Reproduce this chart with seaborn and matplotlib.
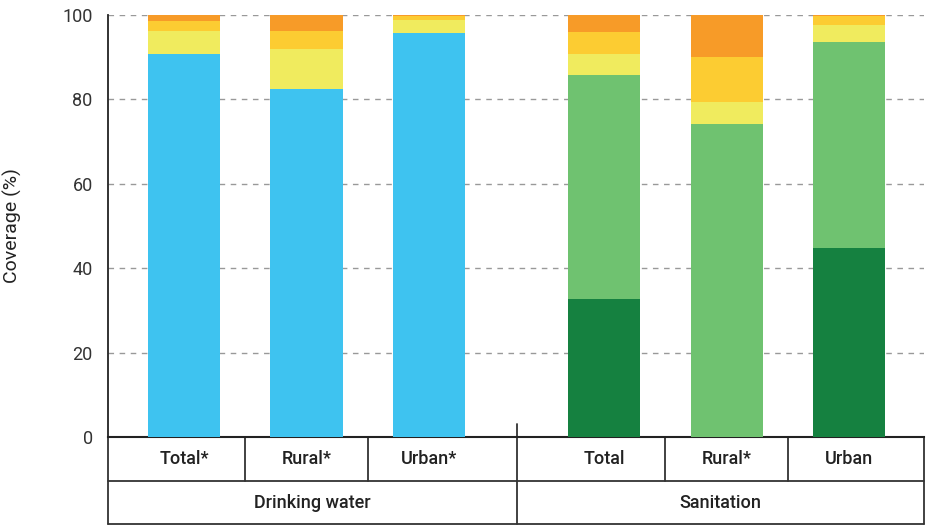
import numpy as np
import pandas as pd
import matplotlib
matplotlib.use("Agg")
import matplotlib.pyplot as plt
import matplotlib.transforms as mtransforms
import seaborn as sns

# ==============================
# DATA (coverage, %)
# ==============================
categories = ["Total*", "Rural*", "Urban*", "Total", "Rural*", "Urban"]
groups = ["Drinking water"] * 3 + ["Sanitation"] * 3
x_pos = [0, 1, 2, 3.43, 4.43, 5.43]

safely_managed = [0, 0, 0, 32.8, 0, 44.8]
basic = [90.7, 82.4, 95.7, 53.1, 74.1, 48.7]
limited = [5.4, 9.5, 3.0, 4.8, 5.4, 4.1]
unimproved = [2.4, 4.2, 1.1, 5.2, 10.5, 2.1]
no_service = [1.5, 3.9, 0.2, 4.1, 10.0, 0.3]

basic_colors = {"Drinking water": "#3ec3f0", "Sanitation": "#6fc270"}
layer_colors = ["#158140", None, "#f0eb5e", "#fccc32", "#f79b28"]

sns.set_style("white")
plt.rcParams["font.family"] = ["Roboto", "DejaVu Sans"]

fig = plt.figure(figsize=(9.26, 5.25), dpi=100)
ax = fig.add_axes([108 / 926, 88 / 525, (924 - 108) / 926, (437 - 15) / 525])

layers = [safely_managed, basic, limited, unimproved, no_service]
cum = np.cumsum(np.array(layers), axis=0)

df = pd.DataFrame({"x": x_pos, "group": groups})

# draw back to front: tallest cumulative first
for i in range(len(layers) - 1, -1, -1):
    df["h"] = cum[i]
    if layer_colors[i] is None:
        sns.barplot(data=df, x="x", y="h", hue="group", palette=basic_colors,
                    native_scale=True, width=0.59, ax=ax, legend=False,
                    saturation=1, linewidth=0, zorder=3)
    else:
        sns.barplot(data=df, x="x", y="h", color=layer_colors[i],
                    native_scale=True, width=0.59, ax=ax,
                    saturation=1, linewidth=0, zorder=3)

ax.set_xlim(-0.62, 6.04)
ax.set_ylim(0, 100)
ax.set_yticks([0, 20, 40, 60, 80, 100])
ax.set_xticks([])
ax.set_xlabel("")
ax.set_ylabel("Coverage (%)", fontsize=14, color="#222222")
ax.yaxis.set_label_coords(-0.105, 0.5)
ax.tick_params(axis="y", length=0, labelsize=13, labelcolor="#333333", pad=11)

for v in [20, 40, 60, 80, 100]:
    ax.axhline(v, color="#999999", lw=1, ls=(0, (4, 4)), zorder=1)

for s in ["top", "right"]:
    ax.spines[s].set_visible(False)
ax.spines["left"].set_color("#222222")
ax.spines["left"].set_linewidth(1.3)
ax.spines["bottom"].set_color("#222222")
ax.spines["bottom"].set_linewidth(1.5)

# ==============================
# TABLE UNDER THE AXIS
# ==============================
trans = mtransforms.blended_transform_factory(ax.transData, fig.transFigure)
line_kw = dict(color="#333333", lw=1.3, transform=trans, clip_on=False)

y_axis = 88 / 525
y_mid = (525 - 481) / 525
y_bot = (525 - 524) / 525
y_tick = (525 - 424) / 525
x_left, x_right = -0.62, 6.04
sep = (x_pos[2] + x_pos[3]) / 2

ax.plot([x_left, x_right], [y_mid, y_mid], **line_kw)
ax.plot([x_left, x_right], [y_bot, y_bot], **line_kw)
ax.plot([x_left, x_left], [y_axis, y_bot], **line_kw)
ax.plot([x_right, x_right], [y_axis, y_bot], **line_kw)
ax.plot([sep, sep], [y_tick, y_bot], **line_kw)
for a, b in [(0, 1), (1, 2), (3, 4), (4, 5)]:
    m = (x_pos[a] + x_pos[b]) / 2
    ax.plot([m, m], [y_axis, y_mid], **line_kw)

for xp, lab in zip(x_pos, categories):
    ax.text(xp, (y_axis + y_mid) / 2, lab, transform=trans, ha="center",
            va="center", fontsize=13, fontweight="medium", color="#222222")

ax.text((x_left + sep) / 2, (y_mid + y_bot) / 2, "Drinking water", transform=trans,
        ha="center", va="center", fontsize=13, fontweight="medium", color="#222222")
ax.text((sep + x_right) / 2, (y_mid + y_bot) / 2, "Sanitation", transform=trans,
        ha="center", va="center", fontsize=13, fontweight="medium", color="#222222")

plt.savefig("out.png", dpi=100)
